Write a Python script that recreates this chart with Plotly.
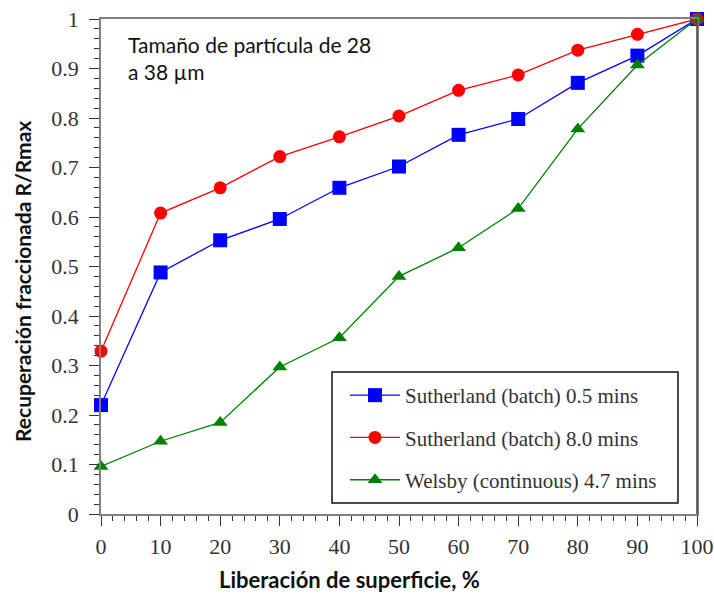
import plotly.graph_objects as go

liberacion = [0, 10, 20, 30, 40, 50, 60, 70, 80, 90, 100]
suth_05 = [0.22, 0.488, 0.553, 0.596, 0.659, 0.702, 0.766, 0.798, 0.871, 0.926, 1.0]
suth_80 = [0.329, 0.608, 0.659, 0.722, 0.762, 0.804, 0.856, 0.887, 0.937, 0.969, 1.0]
welsby_47 = [0.096, 0.147, 0.185, 0.297, 0.356, 0.48, 0.538, 0.617, 0.778, 0.907, 1.0]

names = ["Sutherland (batch) 0.5 mins", "Sutherland (batch) 8.0 mins", "Welsby (continuous) 4.7 mins"]
series = [suth_05, suth_80, welsby_47]
colors = ["#0000ff", "#ff0000", "#008000"]
symbols = ["square", "circle", "triangle-up"]
sizes = [14, 13, 13]

fig = go.Figure()
for i in range(3):
    fig.add_trace(go.Scatter(
        x=liberacion, y=series[i], name=names[i], mode="lines+markers",
        line=dict(color=colors[i], width=1.3),
        marker=dict(symbol=symbols[i], size=sizes[i], color=colors[i]),
        legendgroup=f"g{i}", cliponaxis=False,
    ))

serif = "Liberation Serif"
tickfont = dict(family=serif, size=22, color="#333333")
fig.update_layout(
    width=714, height=594,
    margin=dict(l=101, r=17, t=19, b=80),
    plot_bgcolor="white", paper_bgcolor="white",
    showlegend=True,
    legend=dict(
        x=(345 - 101) / 596, y=(514 - 375) / 495, xanchor="left", yanchor="top",
        bgcolor="rgba(0,0,0,0)", borderwidth=0,
        font=dict(family=serif, size=21, color="#333333"),
        tracegroupgap=12, itemwidth=50,
    ),
    xaxis=dict(
        range=[0, 100], tickvals=list(range(0, 101, 10)),
        showgrid=False, zeroline=False, automargin=False,
        showline=True, linecolor="#808080", linewidth=1.5, mirror=True,
        ticks="outside", ticklen=10, tickwidth=1.2, tickcolor="#333333",
        minor=dict(dtick=2, ticks="outside", ticklen=5, tickwidth=1, tickcolor="#333333"),
        tickfont=tickfont, ticklabelstandoff=2,
    ),
    yaxis=dict(
        range=[0, 1], tickvals=[i / 10 for i in range(11)],
        ticktext=["0"] + [f"0.{i}" for i in range(1, 10)] + ["1"],
        showgrid=False, zeroline=False, automargin=False,
        showline=True, linecolor="#808080", linewidth=1.5, mirror=True,
        ticks="outside", ticklen=10, tickwidth=1.2, tickcolor="#333333",
        minor=dict(dtick=0.02, ticks="outside", ticklen=5, tickwidth=1, tickcolor="#333333"),
        tickfont=tickfont, ticklabelstandoff=6,
    ),
)

# legend frame
fig.add_shape(
    type="rect", xref="paper", yref="paper",
    x0=(332 - 101) / 596, x1=(678 - 101) / 596,
    y0=(514 - 503) / 495, y1=(514 - 372) / 495,
    line=dict(color="#111111", width=1.5), fillcolor="white", layer="below",
)
# darker right border
fig.add_shape(
    type="line", xref="paper", yref="paper", x0=1, x1=1, y0=0, y1=1,
    line=dict(color="#444444", width=1.5),
)

fig.add_annotation(
    text="Tamaño de partícula de 28<br>a 38 µm", xref="paper", yref="paper",
    x=(126 - 101) / 596, y=(514 - 30) / 495, xanchor="left", yanchor="top",
    showarrow=False, align="left",
    font=dict(family="Lato", size=21, color="#111111"),
)
fig.add_annotation(
    text="<b>Liberación de superficie, %</b>", xref="paper", yref="paper",
    x=(349 - 101) / 596, y=(514 - 595) / 495, xanchor="center", yanchor="bottom",
    showarrow=False, font=dict(family="Lato", size=22, color="#111111"),
)
fig.add_annotation(
    text="<b>Recuperación fraccionada R/Rmax</b>", xref="paper", yref="paper",
    x=(22 - 101) / 596, y=(514 - 282) / 495, xanchor="center", yanchor="middle",
    textangle=-90, showarrow=False, font=dict(family="Lato", size=21, color="#111111"),
)

fig.write_html("out.html")
